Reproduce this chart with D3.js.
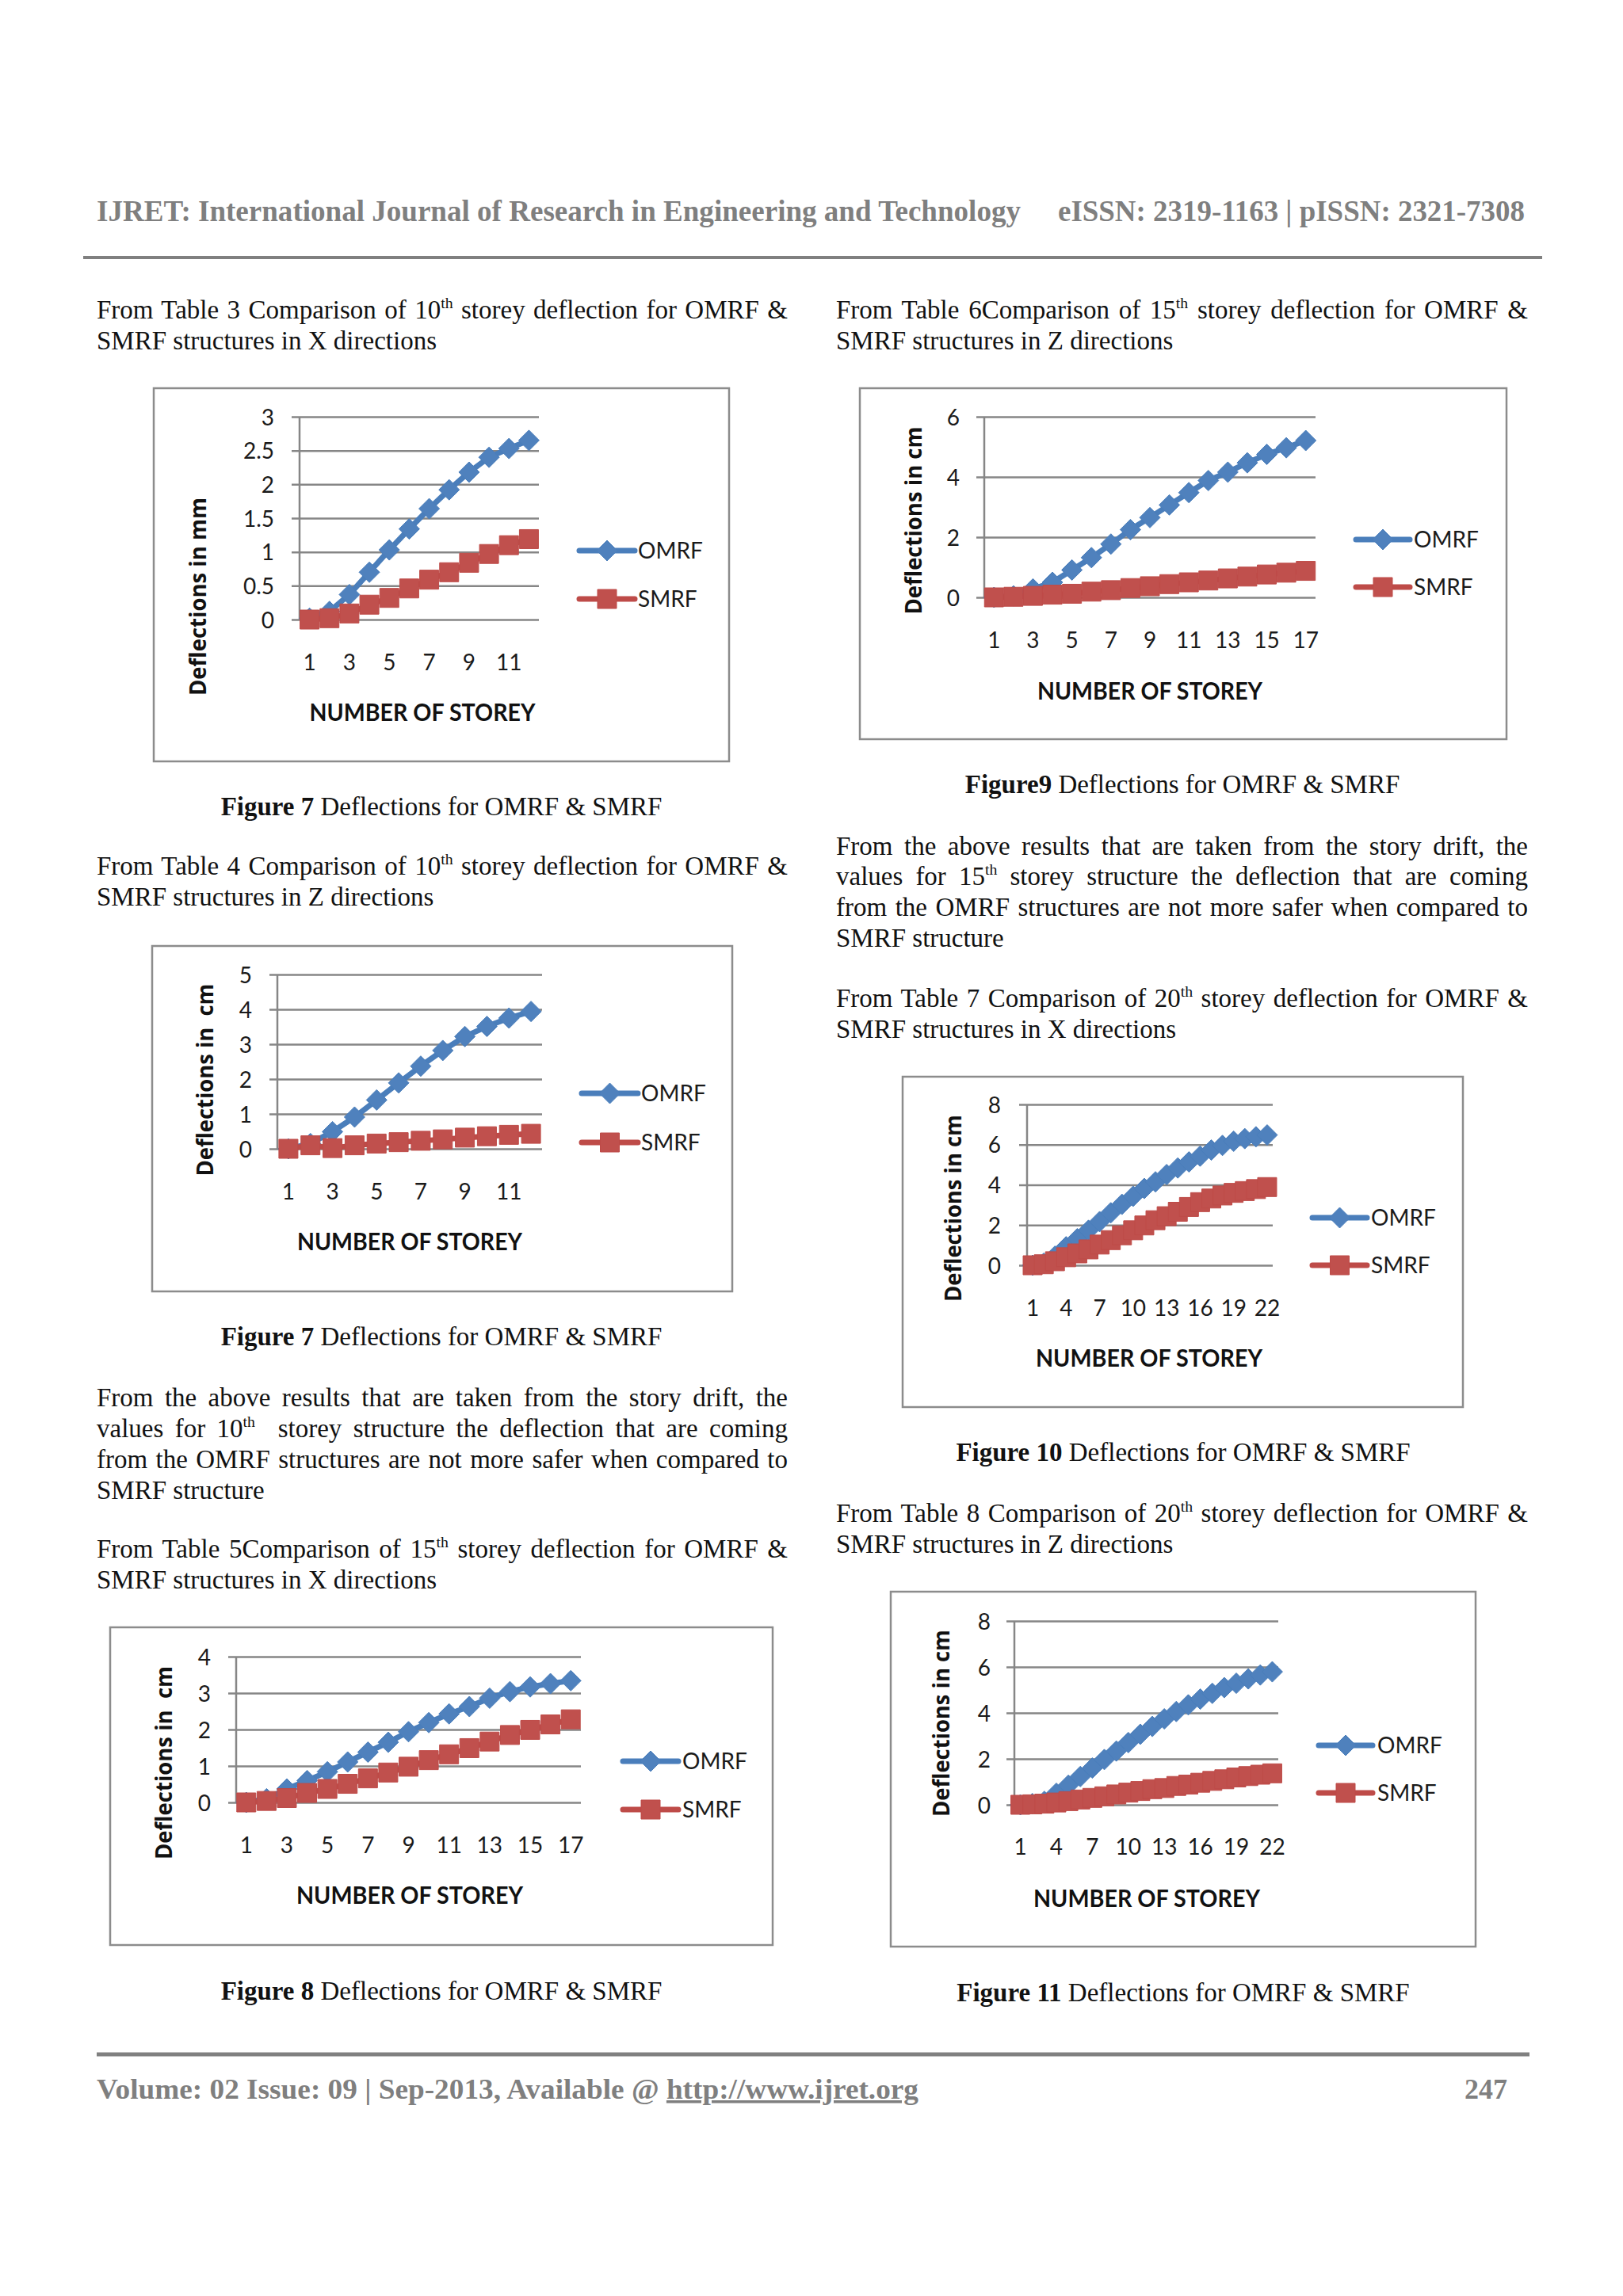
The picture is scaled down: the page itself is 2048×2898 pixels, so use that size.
<!DOCTYPE html>
<html>
<head>
<meta charset="utf-8">
<script src="https://cdn.jsdelivr.net/npm/d3@7"></script>
<style>
  html, body { margin: 0; padding: 0; background: #ffffff; }
  svg { display: block; }
</style>
</head>
<body>
<script>
// ---------------- DATA ----------------
const storeys10 = [1, 2, 3, 4, 5, 6, 7, 8, 9, 10, 11, 12];
const storeys15 = [1, 2, 3, 4, 5, 6, 7, 8, 9, 10, 11, 12, 13, 14, 15, 16, 17];
const storeys20 = [1, 2, 3, 4, 5, 6, 7, 8, 9, 10, 11, 12, 13, 14, 15, 16, 17, 18, 19, 20, 21, 22];

const xTicks10 = [1, 3, 5, 7, 9, 11];
const xTicks15 = [1, 3, 5, 7, 9, 11, 13, 15, 17];
const xTicks20 = [1, 4, 7, 10, 13, 16, 19, 22];

const yTicksFig7X = [0, 0.5, 1, 1.5, 2, 2.5, 3];
const yTicksFig7Z = [0, 1, 2, 3, 4, 5];
const yTicksFig8X = [0, 1, 2, 3, 4];
const yTicksFig9Z = [0, 2, 4, 6];
const yTicksFig10X = [0, 2, 4, 6, 8];
const yTicksFig11Z = [0, 2, 4, 6, 8];

const seriesNames = ["OMRF", "SMRF"];

// Figure 7 (10 storey, X direction)
const omrfFig7X = [0.02, 0.12, 0.37, 0.70, 1.03, 1.34, 1.64, 1.92, 2.18, 2.40, 2.53, 2.65];
const smrfFig7X = [0.00, 0.02, 0.09, 0.22, 0.32, 0.46, 0.59, 0.70, 0.84, 0.97, 1.10, 1.19];
// Figure 7 (10 storey, Z direction)
const omrfFig7Z = [0.00, 0.15, 0.49, 0.91, 1.40, 1.89, 2.37, 2.82, 3.22, 3.51, 3.75, 3.94];
const smrfFig7Z = [0.00, 0.10, 0.02, 0.10, 0.15, 0.19, 0.23, 0.27, 0.32, 0.36, 0.40, 0.43];
// Figure 8 (15 storey, X direction)
const omrfFig8X = [0.00, 0.10, 0.37, 0.60, 0.84, 1.11, 1.38, 1.65, 1.94, 2.19, 2.43, 2.63, 2.86, 3.04, 3.17, 3.26, 3.34];
const smrfFig8X = [0.00, 0.04, 0.12, 0.26, 0.37, 0.51, 0.66, 0.82, 0.98, 1.16, 1.32, 1.49, 1.67, 1.85, 1.99, 2.14, 2.28];
// Figure 9 (15 storey, Z direction)
const omrfFig9Z = [0.00, 0.05, 0.28, 0.50, 0.91, 1.32, 1.77, 2.25, 2.65, 3.07, 3.48, 3.88, 4.16, 4.47, 4.75, 4.97, 5.21];
const smrfFig9Z = [0.00, 0.02, 0.05, 0.09, 0.12, 0.19, 0.24, 0.31, 0.37, 0.44, 0.50, 0.56, 0.63, 0.69, 0.76, 0.82, 0.88];
// Figure 10 (20 storey, X direction)
const omrfFig10X = [0.00, 0.10, 0.45, 0.92, 1.32, 1.74, 2.17, 2.61, 3.03, 3.43, 3.82, 4.15, 4.51, 4.84, 5.14, 5.43, 5.73, 5.96, 6.17, 6.30, 6.39, 6.48];
const smrfFig10X = [0.00, 0.05, 0.20, 0.40, 0.59, 0.79, 1.03, 1.25, 1.49, 1.74, 1.98, 2.24, 2.44, 2.66, 2.90, 3.14, 3.32, 3.47, 3.60, 3.69, 3.79, 3.89];
// Figure 11 (20 storey, Z direction)
const omrfFig11Z = [0.00, 0.05, 0.15, 0.50, 0.85, 1.23, 1.60, 1.97, 2.34, 2.71, 3.07, 3.41, 3.74, 4.06, 4.35, 4.60, 4.85, 5.10, 5.29, 5.48, 5.65, 5.79];
const smrfFig11Z = [0.00, 0.02, 0.05, 0.10, 0.16, 0.23, 0.30, 0.37, 0.45, 0.53, 0.60, 0.68, 0.73, 0.82, 0.88, 0.96, 1.04, 1.11, 1.19, 1.25, 1.31, 1.37];

// ---------------- LAYOUT / STYLE ----------------
const W = 2048, H = 2898;
const SERIF = "'Liberation Serif','Times New Roman',Times,serif";
const SANS = "Lato,'Open Sans',sans-serif";
const BOLDSANS = "'Open Sans',Lato,sans-serif";
const BLUE = "#4F81BD", BLUE_LINE = "#4A7EBB";
const RED = "#C0504D", RED_LINE = "#BE4B48";
const GRID = "#868686";
const TICK_FS = 28;

const svg = d3.select("body").append("svg")
  .attr("width", W).attr("height", H)
  .attr("viewBox", `0 0 ${W} ${H}`);

svg.append("rect").attr("width", W).attr("height", H).attr("fill", "#ffffff");

// ---------- text helpers ----------
function textLine(x, y, parts, opts = {}) {
  const size = opts.size || 33;
  const t = svg.append("text")
    .attr("x", x).attr("y", y)
    .attr("font-family", opts.family || SERIF)
    .attr("font-size", size)
    .attr("fill", opts.fill || "#111111")
    .attr("text-anchor", opts.anchor || "start")
    .style("white-space", "pre");
  let pendingDy = 0;
  parts.forEach(p => {
    const o = typeof p === "string" ? { t: p } : p;
    const ts = t.append("tspan").text(o.t);
    if (o.sup) {
      ts.attr("font-size", size * 0.6).attr("dy", -size * 0.38);
      pendingDy = size * 0.38;
    } else if (pendingDy) {
      ts.attr("dy", pendingDy);
      pendingDy = 0;
    }
    if (o.b) ts.attr("font-weight", "bold");
    if (o.u) ts.style("text-decoration", "underline");
  });
  if (opts.bold) t.attr("font-weight", "bold");
  if (opts.justify) {
    const w = t.node().getComputedTextLength();
    const full = parts.map(p => typeof p === "string" ? p : p.t).join("");
    const spaces = (full.match(/ /g) || []).length;
    if (w < opts.justify && spaces > 0) {
      t.style("word-spacing", ((opts.justify - w) / spaces) + "px");
    } else {
      t.attr("textLength", opts.justify).attr("lengthAdjust", "spacingAndGlyphs");
    }
  }
  if (opts.fit) {
    t.attr("textLength", opts.fit).attr("lengthAdjust", "spacingAndGlyphs");
  }
  return t;
}

// ---------- header / footer ----------
textLine(122, 279, ["IJRET: International Journal of Research in Engineering and Technology"],
  { size: 37, bold: true, fill: "#7f7f7f", fit: 1166 });
textLine(1335, 279, ["eISSN: 2319-1163 | pISSN: 2321-7308"],
  { size: 37, bold: true, fill: "#7f7f7f", fit: 589 });
svg.append("line").attr("x1", 105).attr("x2", 1946).attr("y1", 325).attr("y2", 325)
  .attr("stroke", "#808080").attr("stroke-width", 4);

svg.append("line").attr("x1", 122).attr("x2", 1930).attr("y1", 2593).attr("y2", 2593)
  .attr("stroke", "#808080").attr("stroke-width", 5);
textLine(122, 2649, ["Volume: 02 Issue: 09 | Sep-2013, Available @ ", { t: "http://www.ijret.org", u: true }],
  { size: 35, bold: true, fill: "#7f7f7f", fit: 1037 });
textLine(1848, 2649, ["247"], { size: 35, bold: true, fill: "#7f7f7f", fit: 54 });

// ---------- body text ----------
const LX = 122, LW = 872, RX = 1055, RW = 873;
// left column
textLine(LX, 402, ["From Table 3 Comparison of 10", { t: "th", sup: true }, " storey deflection for OMRF &"], { justify: LW });
textLine(LX, 441, ["SMRF structures in X directions"]);
textLine(557, 1029, [{ t: "Figure 7", b: true }, " Deflections for OMRF & SMRF"], { anchor: "middle" });
textLine(LX, 1104, ["From Table 4 Comparison of 10", { t: "th", sup: true }, " storey deflection for OMRF &"], { justify: LW });
textLine(LX, 1143, ["SMRF structures in Z directions"]);
textLine(557, 1698, [{ t: "Figure 7", b: true }, " Deflections for OMRF & SMRF"], { anchor: "middle" });
textLine(LX, 1775, ["From the above results that are taken from the story drift, the"], { justify: LW });
textLine(LX, 1814, ["values for 10", { t: "th", sup: true }, "  storey structure the deflection that are coming"], { justify: LW });
textLine(LX, 1853, ["from the OMRF structures are not more safer when compared to"], { justify: LW });
textLine(LX, 1892, ["SMRF structure"]);
textLine(LX, 1966, ["From Table 5Comparison of 15", { t: "th", sup: true }, " storey deflection for OMRF &"], { justify: LW });
textLine(LX, 2005, ["SMRF structures in X directions"]);
textLine(557, 2524, [{ t: "Figure 8", b: true }, " Deflections for OMRF & SMRF"], { anchor: "middle" });
// right column
textLine(RX, 402, ["From Table 6Comparison of 15", { t: "th", sup: true }, " storey deflection for OMRF &"], { justify: RW });
textLine(RX, 441, ["SMRF structures in Z directions"]);
textLine(1492, 1001, [{ t: "Figure9", b: true }, " Deflections for OMRF & SMRF"], { anchor: "middle" });
textLine(RX, 1079, ["From the above results that are taken from the story drift, the"], { justify: RW });
textLine(RX, 1117, ["values for 15", { t: "th", sup: true }, " storey structure the deflection that are coming"], { justify: RW });
textLine(RX, 1156, ["from the OMRF structures are not more safer when compared to"], { justify: RW });
textLine(RX, 1195, ["SMRF structure"]);
textLine(RX, 1271, ["From Table 7 Comparison of 20", { t: "th", sup: true }, " storey deflection for OMRF &"], { justify: RW });
textLine(RX, 1310, ["SMRF structures in X directions"]);
textLine(1493, 1844, [{ t: "Figure 10", b: true }, " Deflections for OMRF & SMRF"], { anchor: "middle" });
textLine(RX, 1921, ["From Table 8 Comparison of 20", { t: "th", sup: true }, " storey deflection for OMRF &"], { justify: RW });
textLine(RX, 1960, ["SMRF structures in Z directions"]);
textLine(1493, 2526, [{ t: "Figure 11", b: true }, " Deflections for OMRF & SMRF"], { anchor: "middle" });

// ---------- charts ----------
const charts = [
  { cats: storeys10, omrf: omrfFig7X, smrf: smrfFig7X, yTicks: yTicksFig7X, xTicks: xTicks10,
    yTitle: "Deflections in mm", box: [194, 490, 920, 961], x0: 378, x1: 680, yBot: 782, yTop: 526,
    ytr: 346, xtb: 846, xtc: 533, xtBase: 910, xtW: 285, ytc: [248, 753], ytLen: 250,
    lg: { x0: 731, x1: 801, oy: 695, sy: 756, tx: 805 } },
  { cats: storeys10, omrf: omrfFig7Z, smrf: smrfFig7Z, yTicks: yTicksFig7Z, xTicks: xTicks10,
    yTitle: "Deflections in  cm", box: [192, 1194, 924, 1630], x0: 350, x1: 684, yBot: 1450, yTop: 1230,
    ytr: 318, xtb: 1514, xtc: 517, xtBase: 1578, xtW: 284, ytc: [257, 1363], ytLen: 243,
    lg: { x0: 734, x1: 805, oy: 1380, sy: 1442, tx: 809 } },
  { cats: storeys15, omrf: omrfFig8X, smrf: smrfFig8X, yTicks: yTicksFig8X, xTicks: xTicks15,
    yTitle: "Deflections in  cm", box: [139, 2054, 975, 2455], x0: 298, x1: 733, yBot: 2275, yTop: 2091,
    ytr: 266, xtb: 2339, xtc: 517, xtBase: 2403, xtW: 286, ytc: [205, 2225], ytLen: 244,
    lg: { x0: 786, x1: 856, oy: 2223, sy: 2284, tx: 861 } },
  { cats: storeys15, omrf: omrfFig9Z, smrf: smrfFig9Z, yTicks: yTicksFig9Z, xTicks: xTicks15,
    yTitle: "Deflections in cm", box: [1085, 490, 1901, 933], x0: 1242, x1: 1660, yBot: 754, yTop: 526,
    ytr: 1211, xtb: 818, xtc: 1451, xtBase: 883, xtW: 284, ytc: [1151, 657], ytLen: 237,
    lg: { x0: 1711, x1: 1779, oy: 681, sy: 741, tx: 1784 } },
  { cats: storeys20, omrf: omrfFig10X, smrf: smrfFig10X, yTicks: yTicksFig10X, xTicks: xTicks20,
    yTitle: "Deflections in cm", box: [1139, 1359, 1846, 1776], x0: 1296, x1: 1606, yBot: 1597, yTop: 1394,
    ytr: 1263, xtb: 1661, xtc: 1450, xtBase: 1725, xtW: 286, ytc: [1201, 1525], ytLen: 236,
    lg: { x0: 1656, x1: 1725, oy: 1537, sy: 1597, tx: 1730 } },
  { cats: storeys20, omrf: omrfFig11Z, smrf: smrfFig11Z, yTicks: yTicksFig11Z, xTicks: xTicks20,
    yTitle: "Deflections in cm", box: [1124, 2009, 1862, 2457], x0: 1280, x1: 1613, yBot: 2278, yTop: 2046,
    ytr: 1250, xtb: 2341, xtc: 1447, xtBase: 2407, xtW: 286, ytc: [1186, 2175], ytLen: 236,
    lg: { x0: 1664, x1: 1732, oy: 2203, sy: 2263, tx: 1738 } }
];

const MR = 13; // marker half-size
const diamondPath = `M0,${-MR}L${MR},0L0,${MR}L${-MR},0Z`;
const squarePath = `M${-MR + 1},${-MR + 1}H${MR - 1}V${MR - 1}H${-MR + 1}Z`;

function drawChart(c) {
  const g = svg.append("g");
  const [bx0, by0, bx1, by1] = c.box;
  g.append("rect").attr("x", bx0).attr("y", by0).attr("width", bx1 - bx0).attr("height", by1 - by0)
    .attr("fill", "#ffffff").attr("stroke", "#8c8c8c").attr("stroke-width", 2.5);

  const x = d3.scaleBand().domain(c.cats).range([c.x0, c.x1]).padding(0);
  const yMax = c.yTicks[c.yTicks.length - 1];
  const y = d3.scaleLinear().domain([0, yMax]).range([c.yBot, c.yTop]);
  const cx = d => x(d) + x.bandwidth() / 2;

  // y axis with gridlines
  const tickOut = 10;
  const yAxis = d3.axisLeft(y).tickValues(c.yTicks)
    .tickSize(c.x1 - c.x0 + tickOut)
    .tickPadding(c.x0 - tickOut - c.ytr)
    .tickFormat(d3.format("~g"));
  const ya = g.append("g").attr("transform", `translate(${c.x1},0)`).call(yAxis);
  ya.select(".domain").remove();
  ya.selectAll(".tick line").attr("stroke", GRID).attr("stroke-width", 2.5);
  ya.selectAll(".tick text").attr("font-family", SANS).attr("font-size", TICK_FS)
    .attr("fill", "#1a1a1a").attr("dy", "0.36em");

  // vertical axis line
  g.append("line").attr("x1", c.x0).attr("x2", c.x0).attr("y1", y(yMax)).attr("y2", y(0))
    .attr("stroke", GRID).attr("stroke-width", 2.5);

  // x axis labels
  const xAxis = d3.axisBottom(x).tickValues(c.xTicks).tickSize(0);
  const xa = g.append("g").attr("transform", `translate(0,${c.yBot})`).call(xAxis);
  xa.select(".domain").remove();
  xa.selectAll(".tick line").remove();
  xa.selectAll(".tick text").attr("font-family", SANS).attr("font-size", TICK_FS)
    .attr("fill", "#1a1a1a").attr("y", c.xtb - c.yBot).attr("dy", 0);

  // axis titles
  g.append("text")
    .attr("transform", `translate(${c.ytc[0]},${c.ytc[1]}) rotate(-90)`)
    .attr("text-anchor", "middle").attr("dominant-baseline", "central")
    .attr("font-family", BOLDSANS).attr("font-weight", "bold").attr("font-size", 29)
    .attr("fill", "#111").style("white-space", "pre")
    .attr("textLength", c.ytLen).attr("lengthAdjust", "spacingAndGlyphs")
    .text(c.yTitle);
  g.append("text")
    .attr("x", c.xtc - c.xtW / 2).attr("y", c.xtBase)
    .attr("font-family", SANS).attr("font-weight", "bold").attr("font-size", 30)
    .attr("fill", "#111")
    .attr("textLength", c.xtW).attr("lengthAdjust", "spacingAndGlyphs")
    .text("NUMBER OF STOREY");

  // series
  const line = d3.line().x((d, i) => cx(c.cats[i])).y(d => y(d));
  const series = [
    { name: seriesNames[0], vals: c.omrf, stroke: BLUE_LINE, fill: BLUE, path: diamondPath, ly: c.lg.oy },
    { name: seriesNames[1], vals: c.smrf, stroke: RED_LINE, fill: RED, path: squarePath, ly: c.lg.sy }
  ];
  series.forEach(s => {
    g.append("path").datum(s.vals).attr("d", line)
      .attr("fill", "none").attr("stroke", s.stroke).attr("stroke-width", 7)
      .attr("stroke-linejoin", "round").attr("stroke-linecap", "round");
    g.selectAll(null).data(s.vals).enter().append("path")
      .attr("d", s.path)
      .attr("transform", (d, i) => `translate(${cx(c.cats[i])},${y(d)})`)
      .attr("fill", s.fill).attr("stroke", s.stroke).attr("stroke-width", 1);
    // legend
    g.append("line").attr("x1", c.lg.x0).attr("x2", c.lg.x1).attr("y1", s.ly).attr("y2", s.ly)
      .attr("stroke", s.stroke).attr("stroke-width", 7).attr("stroke-linecap", "round");
    g.append("path").attr("d", s.path)
      .attr("transform", `translate(${(c.lg.x0 + c.lg.x1) / 2},${s.ly})`)
      .attr("fill", s.fill).attr("stroke", s.stroke).attr("stroke-width", 1);
    g.append("text").attr("x", c.lg.tx).attr("y", s.ly).attr("dy", "0.36em")
      .attr("font-family", SANS).attr("font-size", 28).attr("fill", "#1a1a1a")
      .text(s.name);
  });
}

charts.forEach(drawChart);
</script>
</body>
</html>
